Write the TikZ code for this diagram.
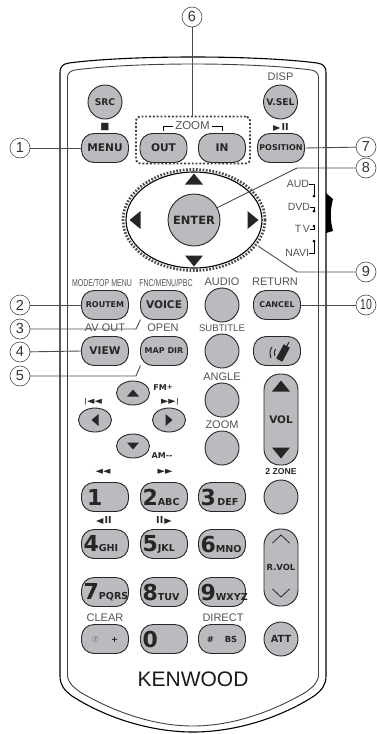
\documentclass[tikz,border=0pt]{standalone}
\usepackage{fontspec}
\setmainfont{Liberation Sans}
\newfontfamily\btnfont{DejaVu Sans}
\usetikzlibrary{shapes,arrows,positioning,calc,arrows.meta}
\definecolor{btngray}{RGB}{186,187,190}
\newcommand{\px}[1]{\fontsize{#1}{#1}\selectfont}
\newcommand{\numkey}[2]{{\px{22}#1}{\px{9.6}#2}}
\newcommand{\narrowtxt}[1]{\scalebox{0.7}[1]{#1}}

\begin{document}
\begin{tikzpicture}[
        x=1pt, y=-1pt,
        every node/.style={inner sep=0pt, outer sep=0pt},
        keypill/.style={rectangle, draw=black!85, line width=0.9pt, fill=btngray, rounded corners=12.5pt, minimum width=47pt, minimum height=29pt, text=black!85, font=\btnfont\bfseries\px{10.6}, align=center},
        numpill/.style={keypill, text width=43pt, align=left},
        keyround/.style={circle, draw=black!85, line width=0.9pt, fill=btngray, minimum size=34pt, text=black!85, font=\btnfont\bfseries\px{9.2}},
        keyoval/.style={ellipse, draw=black!85, line width=0.9pt, fill=btngray, minimum width=33pt, minimum height=24pt},
        keybar/.style={rectangle, draw=black!85, line width=0.9pt, fill=btngray, rounded corners=16pt, minimum width=34pt, text=black!85, font=\btnfont\bfseries},
        graylabel/.style={text=black!68, font=\px{11}},
        symlabel/.style={text=black!85, font=\btnfont\px{9.6}},
        callout/.style={circle, draw=black!70, line width=0.6pt, fill=white, minimum size=20pt, text=black!80, font=\px{14.5}},
        leader/.style={draw=black!70, line width=0.9pt},
        shell/.style={draw=black, line width=1.1pt, line join=round},
    ]
        % shell of the remote
        \draw[shell] (60,676) -- (60,73) .. controls (60,66) and (63,64) .. (69,63)
            .. controls (130,55) and (256,55) .. (317,63) .. controls (323,64) and (326,66) .. (326,73)
            -- (326,676) .. controls (326,685) and (322,690) .. (314,696)
            .. controls (280,718) and (235,732) .. (193,732) .. controls (151,732) and (106,718) .. (72,696)
            .. controls (64,690) and (60,685) .. (60,676) -- cycle;
        \draw[draw=black!75, line width=0.9pt] (67.5,674) -- (67.5,78) .. controls (67.5,73) and (70,71) .. (75,70)
            .. controls (135,62) and (251,62) .. (311,70) .. controls (316,71) and (318.5,73) .. (318.5,78)
            -- (318.5,674) .. controls (318.5,682) and (314,686) .. (306,692)
            .. controls (272,712) and (232,726) .. (193,726) .. controls (154,726) and (114,712) .. (80,692)
            .. controls (72,686) and (67.5,682) .. (67.5,674) -- cycle;

        % side switch
        \fill[black] (326,193) -- (333,199) .. controls (330,210) and (330,220) .. (333,231) -- (326,233) -- cycle;
        \node[graylabel, font=\px{10.5}, anchor=east] (aud) at (309,184) {AUD};
        \node[graylabel, font=\px{10.5}, anchor=east] (dvd) at (310,207) {DVD};
        \node[graylabel, font=\px{10.5}, anchor=east] (tv) at (310,229) {T\,V};
        \node[graylabel, font=\px{10.5}, anchor=east] (navi) at (309,253) {NAVI};
        \coordinate (posaud) at (314,196);
        \coordinate (posdvd) at (314,211);
        \coordinate (postv) at (314,226);
        \coordinate (posnavi) at (314,241);
        \draw[line width=0.8pt] (aud.east) -| (posaud);
        \draw[line width=0.8pt] (dvd.east) -| (posdvd);
        \draw[line width=0.8pt] (tv.east) -| (postv);
        \draw[line width=0.8pt] (navi.east) -| (posnavi);
        \foreach \pos in {posaud,posdvd,postv,posnavi}
            \fill (\pos) circle (1.5);

        % top row
        \node[keyround] (src) at (105,102) {SRC};
        \node[keyround] (vsel) at (280.5,102) {V.SEL};
        \node[graylabel] (disp) at (280.5,77) {DISP};
        \node[keypill] (menu) at (105,148) {MENU};
        \node[keypill] (out) at (163.5,148) {OUT};
        \node[keypill] (in) at (222,148) {IN};
        \node[keypill, font=\btnfont\bfseries\px{8}] (position) at (281,148) {POSITION};
        \node[symlabel] (stop) at (105,127) {■};
        \node[symlabel] (playpause) at (281,127) {\scalebox{1}[0.8]{▶}\hspace{1pt}\textbf{II}};
        \node[draw=black!75, line width=1.9pt, dash pattern=on 1.9pt off 1.9pt, rounded corners=4pt, minimum width=114pt, minimum height=47pt] (zoombox) at (193,140) {};
        \node[graylabel, font=\px{11.5}] (zoomtop) at (192.5,126) {ZOOM};
        \draw[line width=0.8pt] (163.5,130.5) |- ([xshift=-2pt]zoomtop.west);
        \draw[line width=0.8pt] (222,130.5) |- ([xshift=2pt]zoomtop.east);

        % joystick ring
        \node[ellipse, draw=black!70, line width=2.7pt, dash pattern=on 1.7pt off 1.6pt, minimum width=142pt, minimum height=101pt] (ring) at (194,220) {};
        \node[ellipse, draw=black, line width=1.1pt, fill=white, minimum width=136pt, minimum height=96pt] (pad) at (194,220) {};
        \node[keyround, minimum size=52pt, font=\btnfont\bfseries\px{11.4}] (enter) at (194,220) {ENTER};

        % function keys
        \node[graylabel, font=\px{10}] (modelabel) at (102,283) {\narrowtxt{MODE/TOP MENU}};
        \node[graylabel, font=\px{10}] (fnclabel) at (166,283) {\narrowtxt{FNC/MENU/PBC}};
        \node[graylabel] (audiolabel) at (222,282) {AUDIO};
        \node[graylabel] (returnlabel) at (275,282) {RETURN};
        \node[keypill, font=\btnfont\bfseries\px{8}] (routem) at (105,305) {ROUTEM};
        \node[keypill] (voice) at (164,305) {VOICE};
        \node[keyround] (audio) at (222,305) {};
        \node[keypill, font=\btnfont\bfseries\px{8}] (cancel) at (277,305) {CANCEL};
        \node[graylabel] (avoutlabel) at (105,328) {AV OUT};
        \node[graylabel] (openlabel) at (163,328) {OPEN};
        \node[graylabel, font=\px{9.6}] (subtitlelabel) at (222,328) {SUBTITLE};
        \node[keypill] (view) at (105,351) {VIEW};
        \node[keypill, font=\btnfont\bfseries\px{8}] (mapdir) at (164,351) {MAP DIR};
        \node[keyround] (subtitle) at (222,351) {};
        \node[keypill] (phone) at (277,351) {};
        \fill[black!85, rotate around={-28:(283,353)}] (279.5,345) rectangle (286.5,361);
        \draw[black!85, line width=1pt] (287,346) -- (289,342);
        \draw[black!85, line width=1pt] (272,347) .. controls (269.5,350) and (269.5,354) .. (271,358);
        \draw[black!85, line width=1pt] (275.5,349) .. controls (274,351) and (274,353) .. (275,356);

        % transport keys
        \node[keyoval] (tuneup) at (133,393) {};
        \node[keyoval] (tuneleft) at (95,420) {};
        \node[keyoval] (tuneright) at (169,420) {};
        \node[keyoval] (tunedown) at (133,446) {};
        \node[text=black!85, font=\btnfont\bfseries\px{8}] (fmlabel) at (163,388) {FM\raisebox{1pt}{\px{7}+}};
        \node[text=black!85, font=\btnfont\bfseries\px{8}] (amlabel) at (162,456) {AM--};
        \node[symlabel] (prevlabel) at (93,402) {\scalebox{1}[0.7]{|◀◀}};
        \node[symlabel] (nextlabel) at (170,402) {\scalebox{1}[0.7]{▶▶|}};
        \node[graylabel] (anglelabel) at (222,377) {ANGLE};
        \node[keyround] (angle) at (222,400) {};
        \node[graylabel] (zoomlabel) at (222,425) {ZOOM};
        \node[keyround] (zoomkey) at (222,448) {};
        \node[keybar, minimum height=91pt, font=\btnfont\bfseries\px{10.4}] (vol) at (281,419.5) {VOL};

        % direction marks
        \foreach \xx/\yy/\ang/\len/\wid in {194/179/0/9/5.5, 194/261/180/9/5.5, 135/220/90/9/5.5, 253/220/270/9/5.5, 281/386/0/9/5.5, 281/453/180/9/5.5, 133/393/0/6/3.5, 133/446/180/6/3.5, 95/420/90/6/3.5, 169/420/270/6/3.5}
            \fill[black!85, shift={(\xx,\yy)}, rotate=\ang] (-\len,\wid) -- (\len,\wid) -- (0,-\wid) -- cycle;

        % number pad
        \node[symlabel] (rewlabel) at (103,472) {\scalebox{1}[0.7]{◀◀}};
        \node[symlabel] (fwdlabel) at (165,472) {\scalebox{1}[0.7]{▶▶}};
        \node[text=black!85, font=\bfseries\px{8.6}] (zonelabel) at (281,472) {2 ZONE};
        \node[symlabel] (stepback) at (104,520) {\scalebox{1}[0.8]{◀}\hspace{1pt}\textbf{II}};
        \node[symlabel] (stepfwd) at (164,520) {\textbf{II}\hspace{1pt}\scalebox{1}[0.8]{▶}};
        \foreach \name/\xx/\yy/\digit/\letters in {one/105/497/\,1/, two/164/497/2/ABC, three/222/497/3/\,DEF,
                four/105/544/4/GHI, five/164/544/5/JKL, six/222/544/6/MNO,
                seven/105/592/7/PQRS, eight/164/592/8/TUV, nine/222/592/9/WXYZ}
            \node[numpill] (\name) at (\xx,\yy) {\numkey{\digit}{\letters}};
        \node[keyround] (zone) at (281,497) {};
        \node[keybar, minimum height=77pt, font=\btnfont\bfseries\px{8.4}] (rvol) at (281,567.5) {R.VOL};
        \draw[black!85, line width=0.8pt] (272.5,543) -- (281,535) -- (289.5,543);
        \draw[black!85, line width=0.8pt] (272.5,589) -- (281,597) -- (289.5,589);
        \node[graylabel] (clearlabel) at (105,618) {CLEAR};
        \node[graylabel] (directlabel) at (223,618) {DIRECT};
        \node[keypill, font=\btnfont\bfseries\px{8.4}] (clear) at (105,639) {{\mdseries\textcolor{black!55}{⑦}}\hspace{12pt}+};
        \node[numpill] (zero) at (164,639) {\numkey{0}{}};
        \node[keypill, font=\btnfont\bfseries\px{8.4}] (direct) at (222,639) {\#\hspace{11pt}BS};
        \node[keyround, font=\btnfont\bfseries\px{9.8}] (att) at (281,639) {ATT};
        \node[text=black!90, font=\px{21}] (brand) at (193,679) {KENWOOD};

        % callouts
        \node[callout] (cone) at (20,148) {1};
        \node[callout] (ctwo) at (20,305) {2};
        \node[callout] (cthree) at (20,329) {3};
        \node[callout] (cfour) at (20,352) {4};
        \node[callout] (cfive) at (20,376) {5};
        \node[callout] (csix) at (192,17) {6};
        \node[callout] (cseven) at (366,147) {7};
        \node[callout] (ceight) at (366,168) {8};
        \node[callout] (cnine) at (366,272) {9};
        \node[callout] (cten) at (366,305) {\scalebox{0.72}[1]{10}};
        \coordinate (bendthree) at (136,329);
        \coordinate (bendfive) at (136,376);
        \coordinate (bendeight) at (297,168);
        \coordinate (bendnine) at (297,272);
        \coordinate (ringedge) at (258,246);
        \draw[leader] (cone) -- (menu.west);
        \draw[leader] (ctwo) -- (routem.west);
        \draw[leader] (cthree) -- (bendthree) -- (voice.south west);
        \draw[leader] (cfour) -- (view.west);
        \draw[leader] (cfive) -- (bendfive) -- (mapdir.south west);
        \draw[leader] (csix) -- (zoombox.north -| csix);
        \draw[leader] (position.east) -- (cseven);
        \draw[leader] (enter.28) -- (bendeight) -- (ceight);
        \draw[leader] (ringedge) -- (bendnine) -- (cnine);
        \draw[leader] (cancel.east) -- (cten);

        \useasboundingbox (0,0) rectangle (376,734);
    \end{tikzpicture}
\end{document}
